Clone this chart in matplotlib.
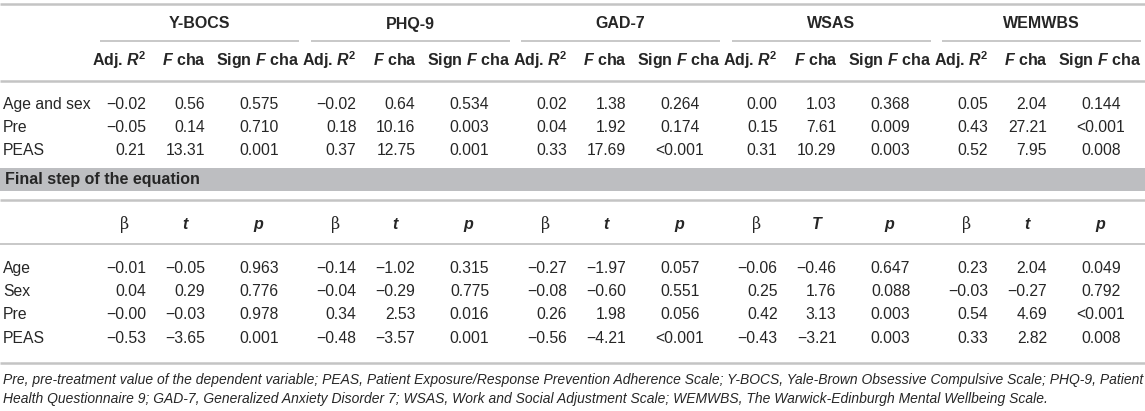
import matplotlib
matplotlib.use("Agg")
import matplotlib.pyplot as plt

plt.rcParams['font.family'] = ['Liberation Sans', 'DejaVu Sans']
plt.rcParams['mathtext.fontset'] = 'custom'
plt.rcParams['mathtext.rm'] = 'Liberation Sans'
plt.rcParams['mathtext.it'] = 'Liberation Sans:italic'
plt.rcParams['mathtext.bf'] = 'Liberation Sans:bold'
plt.rcParams['mathtext.bfit'] = 'Liberation Sans:italic:bold'

measures = ["Y-BOCS", "PHQ-9", "GAD-7", "WSAS", "WEMWBS"]

# step rows (hierarchical regression)
step_rows = ["Age and sex", "Pre", "PEAS"]
adj_r2 = [
    ["\u22120.02", "\u22120.05", "0.21"],
    ["\u22120.02", "0.18", "0.37"],
    ["0.02", "0.04", "0.33"],
    ["0.00", "0.15", "0.31"],
    ["0.05", "0.43", "0.52"],
]
f_cha = [
    ["0.56", "0.14", "13.31"],
    ["0.64", "10.16", "12.75"],
    ["1.38", "1.92", "17.69"],
    ["1.03", "7.61", "10.29"],
    ["2.04", "27.21", "7.95"],
]
sign_f = [
    ["0.575", "0.710", "0.001"],
    ["0.534", "0.003", "0.001"],
    ["0.264", "0.174", "<0.001"],
    ["0.368", "0.009", "0.003"],
    ["0.144", "<0.001", "0.008"],
]

# final step of the equation
final_rows = ["Age", "Sex", "Pre", "PEAS"]
beta = [
    ["\u22120.01", "0.04", "\u22120.00", "\u22120.53"],
    ["\u22120.14", "\u22120.04", "0.34", "\u22120.48"],
    ["\u22120.27", "\u22120.08", "0.26", "\u22120.56"],
    ["\u22120.06", "0.25", "0.42", "\u22120.43"],
    ["0.23", "\u22120.03", "0.54", "0.33"],
]
t_val = [
    ["\u22120.05", "0.29", "\u22120.03", "\u22123.65"],
    ["\u22121.02", "\u22120.29", "2.53", "\u22123.57"],
    ["\u22121.97", "\u22120.60", "1.98", "\u22124.21"],
    ["\u22120.46", "1.76", "3.13", "\u22123.21"],
    ["2.04", "\u22120.27", "4.69", "2.82"],
]
p_val = [
    ["0.963", "0.776", "0.978", "0.001"],
    ["0.315", "0.775", "0.016", "0.001"],
    ["0.057", "0.551", "0.056", "<0.001"],
    ["0.647", "0.088", "0.003", "0.003"],
    ["0.049", "0.792", "<0.001", "0.008"],
]
t_labels = ["t", "t", "t", "T", "t"]

footnote = [
    "Pre, pre-treatment value of the dependent variable; PEAS, Patient Exposure/Response Prevention Adherence Scale; "
    "Y-BOCS, Yale-Brown Obsessive Compulsive Scale; PHQ-9, Patient",
    "Health Questionnaire 9; GAD-7, Generalized Anxiety Disorder 7; WSAS, Work and Social Adjustment Scale; "
    "WEMWBS, The Warwick-Edinburgh Mental Wellbeing Scale.",
]

W, H = 1145, 411
fig = plt.figure(figsize=(W / 100, H / 100), dpi=100)
ax = fig.add_axes([0, 0, 1, 1])
ax.set_xlim(0, W)
ax.set_ylim(H, 0)
ax.axis("off")

txt = "#262626"
line_c = "#c4c4c4"
fs = 11.3
hfs = 11.5

def hline(y, x0=0, x1=W, lw=1.6):
    ax.plot([x0, x1], [y, y], color=line_c, lw=lw, solid_capstyle="butt")

# rules
hline(4, lw=1.8)
hline(81, lw=1.8)
ax.fill_between([0, W], 168, 191, color="#bdbec1", lw=0)
hline(200, lw=1.8)
hline(244, lw=1.3)
hline(363, lw=1.8)

y_group, y_sub = 24, 60
step_y = [104, 127, 150]
final_y = [268, 291, 314, 338]

for i, m in enumerate(measures):
    g = 100 + 210.5 * i
    hline(41, g, g + 199, lw=1.3)
    ax.text(g + 99.5, y_group, m, ha="center", va="center", fontsize=hfs, fontweight="bold", color=txt)
    ax.text(g + 46, y_sub, r"Adj. $\mathbfit{R}^{\mathbf{2}}$", ha="right", va="center",
            fontsize=hfs, fontweight="bold", color=txt)
    ax.text(g + 106, y_sub, r"$\mathbfit{F}$ cha", ha="right", va="center",
            fontsize=hfs, fontweight="bold", color=txt)
    ax.text(g + 158, y_sub, r"Sign $\mathbfit{F}$ cha", ha="center", va="center",
            fontsize=hfs, fontweight="bold", color=txt)
    for r, y in enumerate(step_y):
        ax.text(g + 46, y, adj_r2[i][r], ha="right", va="center", fontsize=fs, color=txt)
        ax.text(g + 105, y, f_cha[i][r], ha="right", va="center", fontsize=fs, color=txt)
        ax.text(g + 159, y, sign_f[i][r], ha="center", va="center", fontsize=fs, color=txt)

    ax.text(g + 25, 224, "\u03b2", ha="center", va="center", fontsize=fs, color=txt,
            family=["DejaVu Serif"])
    ax.text(g + 85, 224, t_labels[i], ha="center", va="center", fontsize=hfs,
            fontweight="bold", style="italic", color=txt)
    ax.text(g + 158, 224, "p", ha="center", va="center", fontsize=hfs,
            fontweight="bold", style="italic", color=txt)
    for r, y in enumerate(final_y):
        ax.text(g + 46, y, beta[i][r], ha="right", va="center", fontsize=fs, color=txt)
        ax.text(g + 105, y, t_val[i][r], ha="right", va="center", fontsize=fs, color=txt)
        ax.text(g + 159, y, p_val[i][r], ha="center", va="center", fontsize=fs, color=txt)

for lab, y in zip(step_rows, step_y):
    ax.text(3, y, lab, ha="left", va="center", fontsize=fs, color=txt)
for lab, y in zip(final_rows, final_y):
    ax.text(3, y, lab, ha="left", va="center", fontsize=fs, color=txt)

ax.text(5, 179, "Final step of the equation", ha="left", va="center", fontsize=hfs,
        fontweight="bold", color=txt)

# footnote, scaled so the first line spans the table width
fn = [ax.text(3, y, s, ha="left", va="center", fontsize=9, style="italic", color=txt)
      for s, y in zip(footnote, [380, 399])]
fig.canvas.draw()
wpx = fn[0].get_window_extent().width
scale = (1140 - 3) / wpx
for t in fn:
    t.set_fontsize(9 * scale)

fig.savefig("out.png", dpi=100)
